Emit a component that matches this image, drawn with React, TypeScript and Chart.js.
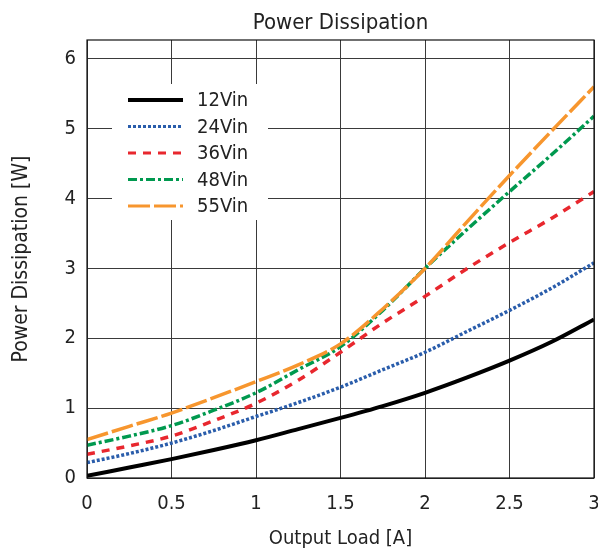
import React, { useEffect, useRef } from "react";
import { Chart, registerables } from "chart.js";

Chart.register(...registerables);

const loads = [0, 0.25, 0.5, 0.75, 1, 1.25, 1.5, 1.75, 2, 2.25, 2.5, 2.75, 3];
const v12 = [0.03, 0.15, 0.27, 0.4, 0.54, 0.7, 0.86, 1.03, 1.22, 1.44, 1.68, 1.95, 2.27];
const v24 = [0.22, 0.35, 0.5, 0.68, 0.88, 1.08, 1.3, 1.55, 1.8, 2.1, 2.4, 2.72, 3.08];
const v36 = [0.34, 0.46, 0.6, 0.82, 1.07, 1.4, 1.8, 2.22, 2.6, 3.0, 3.37, 3.72, 4.1];
const v48 = [0.47, 0.6, 0.75, 0.97, 1.22, 1.55, 1.88, 2.4, 3.0, 3.56, 4.1, 4.63, 5.18];
const v55 = [0.55, 0.74, 0.93, 1.15, 1.38, 1.62, 1.92, 2.42, 3.0, 3.67, 4.33, 4.97, 5.6];
const seriesNames = ["12Vin", "24Vin", "36Vin", "48Vin", "55Vin"];
const yTicks = [0, 1, 2, 3, 4, 5, 6];
const xTicks = [0, 0.5, 1, 1.5, 2, 2.5, 3];

const FONT = "'Liberation Sans Narrow', 'Arial Narrow', 'DejaVu Sans Condensed', sans-serif";

const styles = [
  { color: "#000000", width: 4, dash: [] as number[] },
  { color: "#2a5dab", width: 3.5, dash: [3, 2] },
  { color: "#e8272e", width: 3.5, dash: [8, 7] },
  { color: "#00994f", width: 3.5, dash: [9, 3, 3, 3] },
  { color: "#f7962e", width: 3.5, dash: [22, 4] },
];

const frameAndLegend = {
  id: "frameAndLegend",
  afterDatasetsDraw(chart: any) {
    const { ctx, chartArea } = chart;
    const { left, top, right, bottom } = chartArea;
    ctx.save();
    // frame
    ctx.strokeStyle = "#111";
    ctx.lineWidth = 1.2;
    ctx.strokeRect(left, top, right - left, bottom - top);
    // legend
    ctx.fillStyle = "#ffffff";
    ctx.fillRect(left + 25, top + 44, 156, 136);
    const rows = [60, 86.5, 113, 139.5, 166];
    seriesNames.forEach((name, i) => {
      const y = top + rows[i];
      const st = styles[i];
      ctx.strokeStyle = st.color;
      ctx.lineWidth = i === 0 ? 4 : 3;
      ctx.setLineDash(st.dash);
      ctx.lineCap = "butt";
      ctx.beginPath();
      ctx.moveTo(left + 41, y);
      ctx.lineTo(left + 96, y);
      ctx.stroke();
      ctx.setLineDash([]);
      ctx.fillStyle = "#222";
      ctx.font = `20px ${FONT}`;
      ctx.textAlign = "left";
      ctx.textBaseline = "middle";
      ctx.fillText(name, left + 110, y + 1);
    });
    // title
    ctx.fillStyle = "#222";
    ctx.font = `22px ${FONT}`;
    ctx.textAlign = "center";
    ctx.textBaseline = "middle";
    ctx.fillText("Power Dissipation", (left + right) / 2, 23);
    ctx.restore();
  },
};

export default function App() {
  const ref = useRef<HTMLCanvasElement>(null);
  useEffect(() => {
    if (!ref.current) return;
    const all = [v12, v24, v36, v48, v55];
    const chart = new Chart(ref.current, {
      type: "line",
      data: {
        datasets: all.map((vals, i) => ({
          label: seriesNames[i],
          data: loads.map((x, j) => ({ x, y: vals[j] })),
          borderColor: styles[i].color,
          borderWidth: styles[i].width,
          borderDash: styles[i].dash,
          pointRadius: 0,
          fill: false,
          cubicInterpolationMode: "monotone" as const,
          order: 4 - i,
        })),
      },
      options: {
        responsive: false,
        maintainAspectRatio: false,
        animation: false,
        layout: { padding: { top: 40, right: 4, left: 0, bottom: 0 } },
        plugins: {
          legend: { display: false },
          title: { display: false },
          tooltip: { enabled: false },
        },
        scales: {
          x: {
            type: "linear",
            min: 0,
            max: 3,
            afterBuildTicks: (s: any) => {
              s.ticks = xTicks.map((v) => ({ value: v }));
            },
            afterFit: (s: any) => {
              s.height = 73;
              s.paddingRight = 0;
              s.paddingLeft = 0;
            },
            grid: { color: "#3a3a3a", lineWidth: 1, drawTicks: false },
            border: { display: false },
            ticks: {
              color: "#222",
              font: { family: FONT, size: 20 },
              padding: 14,
              maxRotation: 0,
              callback: (v: any) => String(v),
            },
            title: {
              display: true,
              text: "Output Load [A]",
              color: "#222",
              font: { family: FONT, size: 20, lineHeight: 1 },
              padding: { top: 0, bottom: 2 },
            },
          },
          y: {
            type: "linear",
            min: 0,
            max: 6.27,
            afterBuildTicks: (s: any) => {
              s.ticks = yTicks.map((v) => ({ value: v }));
            },
            afterFit: (s: any) => {
              s.width = 87;
            },
            grid: { color: "#3a3a3a", lineWidth: 1, drawTicks: false },
            border: { display: false },
            ticks: {
              color: "#222",
              font: { family: FONT, size: 20 },
              padding: 11,
              callback: (v: any) => String(v),
            },
            title: {
              display: true,
              text: "Power Dissipation [W]",
              color: "#222",
              font: { family: FONT, size: 21, lineHeight: 1.2 },
              padding: { top: 9, bottom: 0 },
            },
          },
        },
      },
      plugins: [frameAndLegend],
    });
    return () => chart.destroy();
  }, []);
  return (
    <div style={{ position: "absolute", left: 0, top: 0, width: 598, height: 551, background: "#fff" }}>
      <canvas ref={ref} width={598} height={551} style={{ width: 598, height: 551 }} />
    </div>
  );
}
